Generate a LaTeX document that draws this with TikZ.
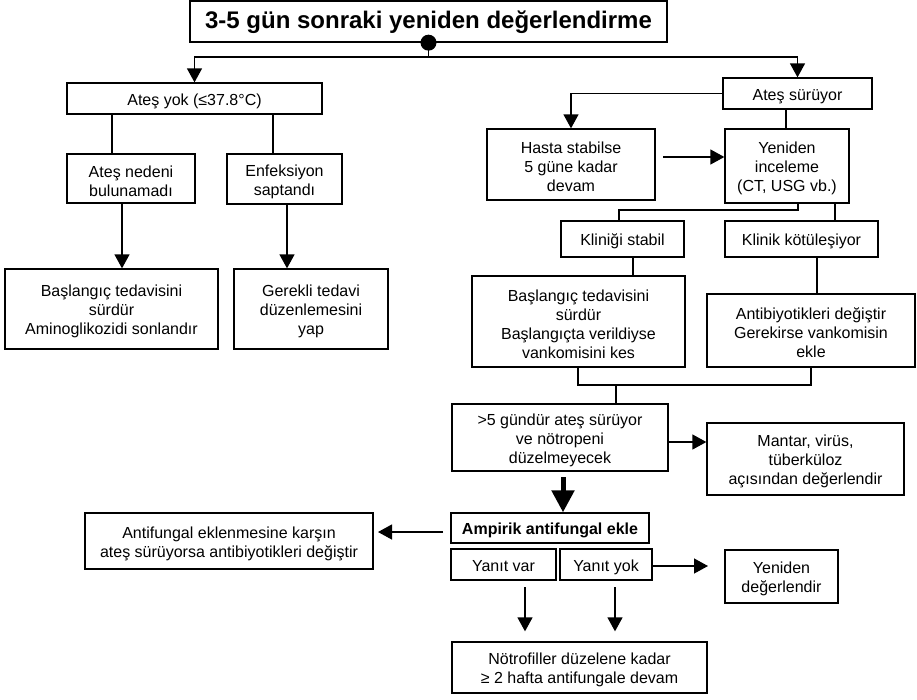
\documentclass[tikz,border=0pt]{standalone}
\usepackage{fontspec}
\setmainfont{Liberation Sans}
\usetikzlibrary{arrows.meta}

% frame node #2 at #3 (width #4, height #5) with its text #6 in node #2-t
\newcommand\flowbox[6][]{%
  \node[box, minimum width=#4, minimum height=#5] (#2) at (#3) {};
  \node[txt, #1] (#2-t) at ([yshift=-2.5pt]#2.center) {#6};}

\begin{document}
\begin{tikzpicture}[x=1pt,y=-1pt,
  box/.style={draw, line width=1.3pt, inner sep=0pt},
  txt/.style={align=center, inner sep=0pt, font=\fontsize{16}{19}\selectfont},
  oneline/.style={text height=11.6pt, text depth=3.4pt},
  link/.style={line width=1.3pt},
  arr/.style={line width=1.3pt, -{Triangle[width=15pt,length=14pt]}},
  bigarr/.style={line width=5pt, -{Triangle[width=22pt,length=22pt]}}]
\useasboundingbox (0,0) rectangle (917,699);

% boxes
\flowbox[font=\fontsize{24}{28}\bfseries, yshift=1.5pt]{title}{428.5,21.5}{477}{41}{3-5 gün sonraki yeniden değerlendirme}
\flowbox[oneline]{yok}{194.5,98.5}{255}{31}{Ateş yok (≤37.8°C)}
\flowbox{neden}{131,178.5}{128}{49}{Ateş nedeni\\bulunamadı}
\flowbox{enf}{284.5,179}{115}{50}{Enfeksiyon\\saptandı}
\flowbox{bas1}{111.5,309}{213}{80}{Başlangıç tedavisini\\sürdür\\Aminoglikozidi sonlandır}
\flowbox{ger}{311,309}{154}{80}{Gerekli tedavi\\düzenlemesini\\yap}

\flowbox[oneline]{sur}{797.5,93.5}{149}{31}{Ateş sürüyor}
\flowbox{hasta}{571,164.5}{168}{71}{Hasta stabilse\\5 güne kadar\\devam}
\flowbox{yen}{787,166}{124}{74}{Yeniden\\inceleme\\(CT, USG vb.)}
\flowbox[oneline]{stab}{622.5,239}{123}{36}{Kliniği stabil}
\flowbox[oneline]{kot}{801.5,239}{153}{36}{Klinik kötüleşiyor}
\flowbox{bas2}{578.5,321.5}{213}{91}{Başlangıç tedavisini\\sürdür\\Başlangıçta verildiyse\\vankomisini kes}
\flowbox{anti}{811,330.5}{208}{73}{Antibiyotikleri değiştir\\Gerekirse vankomisin\\ekle}
\flowbox{gt5}{560,437.5}{216}{67}{>5 gündür ateş sürüyor\\ve nötropeni\\düzelmeyecek}
\flowbox{man}{805.5,459}{197}{72}{Mantar, virüs,\\tüberküloz\\açısından değerlendir}

\flowbox[oneline, font=\fontsize{16}{19}\bfseries]{amp}{550,528}{198}{30}{Ampirik antifungal ekle}
\flowbox{af}{229,541}{288}{56}{Antifungal eklenmesine karşın\\ateş sürüyorsa antibiyotikleri değiştir}
\flowbox[oneline]{var}{503.5,564.5}{105}{31}{Yanıt var}
\flowbox[oneline]{ytyok}{606,564.5}{92}{31}{Yanıt yok}
\flowbox{yd}{781.5,576.5}{113}{53}{Yeniden\\değerlendir}
\flowbox{notr}{579.5,667.5}{255}{51}{Nötrofiller düzelene kadar\\≥ 2 hafta antifungale devam}

% junction points and free ends
\coordinate (j0) at (428.5,57);
\coordinate (xA) at (112,0);
\coordinate (xB) at (273,0);
\coordinate (xC) at (122,0);
\coordinate (xD) at (287,0);
\coordinate (xE) at (786,0);
\coordinate (h1) at (663,157);
\coordinate (xF) at (798,0);
\coordinate (j1) at (619,210);
\coordinate (xG) at (835,0);
\coordinate (xH) at (633,0);
\coordinate (xI) at (817,0);
\coordinate (j2) at (578,385);
\coordinate (j3) at (811,385);
\coordinate (xJ) at (616,0);
\coordinate (yK) at (0,442);
\coordinate (b1) at (563,477);
\coordinate (a1) at (443,532);
\coordinate (a2) at (378,532);
\coordinate (yL) at (0,566);
\coordinate (r1) at (708,566);
\coordinate (v1) at (525,587);
\coordinate (v2) at (615,587);

% top split
\fill (title.south) circle (8);
\draw[link] (title.south) -- (j0);
\draw[arr] (j0) -| (yok.north);
\draw[arr] (j0) -| (sur.north);

% left branch
\draw[link] (yok.south -| xA) -- (neden.north -| xA);
\draw[link] (yok.south -| xB) -- (enf.north -| xB);
\draw[arr] (neden.south -| xC) -- (bas1.north -| xC);
\draw[arr] (enf.south -| xD) -- (ger.north -| xD);

% right branch
\draw[arr] (sur.west) -| (hasta.north);
\draw[link] (sur.south -| xE) -- (yen.north -| xE);
\draw[arr] (h1) -- (h1 -| yen.west);
\draw[link] (yen.south -| xF) |- (j1) -- (stab.north -| j1);
\draw[link] (yen.south -| xG) -- (kot.north -| xG);
\draw[link] (stab.south -| xH) -- (bas2.north -| xH);
\draw[link] (kot.south -| xI) -- (anti.north -| xI);
\draw[link] (bas2.south -| j2) -- (j2) -- (j3) -- (anti.south -| j3);
\draw[link] (j2 -| xJ) -- (gt5.north -| xJ);
\draw[arr] (gt5.east |- yK) -- (man.west |- yK);
\draw[bigarr] (b1) -- (amp.north -| b1);

% antifungal step
\draw[arr] (a1) -- (a2);
\draw[arr] (ytyok.east |- yL) -- (r1);
\draw[arr] (v1) -- ([yshift=10pt]notr.north -| v1);
\draw[arr] (v2) -- ([yshift=10pt]notr.north -| v2);
\end{tikzpicture}
\end{document}
